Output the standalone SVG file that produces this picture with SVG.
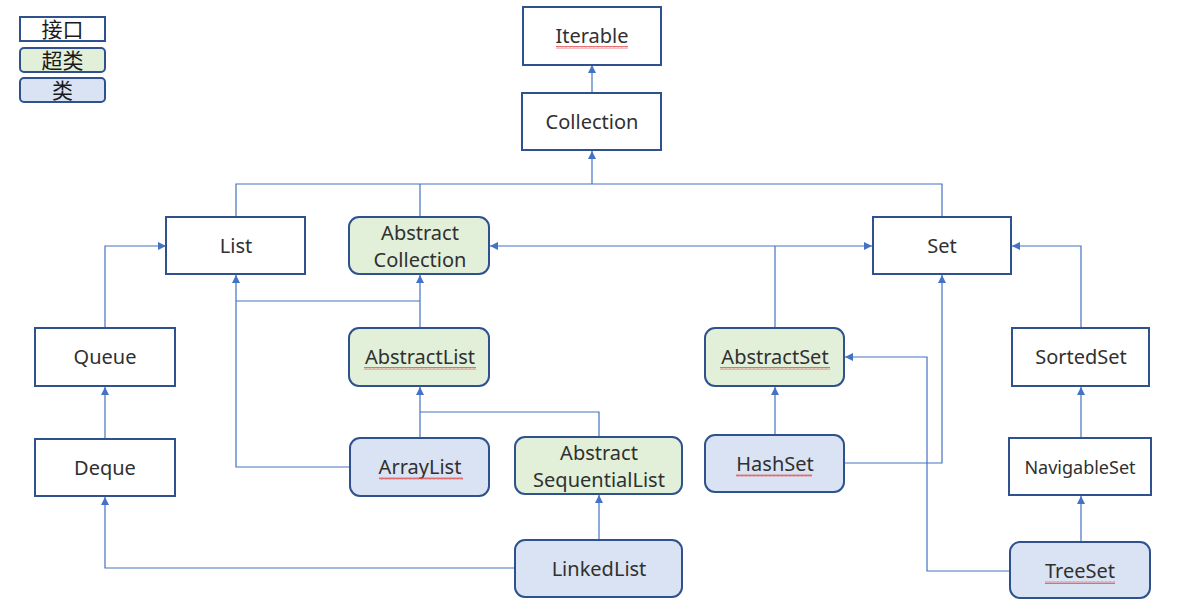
<svg xmlns="http://www.w3.org/2000/svg" width="1183" height="616" viewBox="0 0 1183 616">
<style>
.box{stroke:#2f528f;stroke-width:2}
.iface{fill:#ffffff}
.sup{fill:#e2efd9}
.cls{fill:#dae3f3}
text{font-family:"Noto Sans","Noto Sans CJK SC",sans-serif;font-size:20px;fill:#303030;text-anchor:middle}
.lg{font-family:"Noto Sans CJK SC",sans-serif;font-size:21px;fill:#1a1a1a}
.c{fill:none;stroke:#4472c4;stroke-width:1.2}
.a{marker-end:url(#arr)}
.sq{fill:url(#wave)}
</style>
<defs>
<marker id="arr" viewBox="0 0 10 10" refX="10" refY="5" markerWidth="9" markerHeight="8" markerUnits="userSpaceOnUse" orient="auto">
<path d="M0,0 L10,5 L0,10 z" fill="#4472c4"/>
</marker>
<pattern id="wave" width="4" height="3" patternUnits="userSpaceOnUse">
<path d="M0,2.5 L1,0.5 L2,2.5 L3,0.5 L4,2.5" fill="none" stroke="#e05050" stroke-width="0.8"/>
</pattern>
</defs>

<g id="legend">
<rect class="box iface" x="20" y="17" width="85" height="24"/>
<text class="lg" x="62.5" y="37">接口</text>
<rect class="box sup" x="20" y="48" width="85" height="24" rx="4"/>
<text class="lg" x="62.5" y="68">超类</text>
<rect class="box cls" x="20" y="78" width="85" height="24" rx="4"/>
<text class="lg" x="62.5" y="98">类</text>
</g>

<g id="connectors">
<path class="c a" d="M592,93 V65"/>
<path class="c" d="M236,217 V184 H942 V217"/>
<path class="c" d="M420,217 V184"/>
<path class="c a" d="M592,184 V151"/>
<path class="c a" d="M105,328 V246 H166"/>
<path class="c a" d="M105,439 V387"/>
<path class="c a" d="M515,568 H105 V497"/>
<path class="c a" d="M350,467 H236 V275"/>
<path class="c" d="M236,301 H420"/>
<path class="c a" d="M420,328 V275"/>
<path class="c a" d="M420,438 V387"/>
<path class="c" d="M420,412 H599 V437"/>
<path class="c a" d="M599,540 V495"/>
<path class="c" d="M775,328 V246"/>
<path class="c a" d="M775,246 H490"/>
<path class="c a" d="M775,246 H872"/>
<path class="c a" d="M775,435 V387"/>
<path class="c a" d="M844,463 H942 V275"/>
<path class="c a" d="M1010,571 H927 V357 H845"/>
<path class="c a" d="M1081,328 V246 H1012"/>
<path class="c a" d="M1081,438 V387"/>
<path class="c a" d="M1081,542 V496"/>
</g>

<g id="Iterable">
<rect class="box iface" x="523" y="7" width="138" height="58"/>
<text x="592" y="43">Iterable</text>
<rect class="sq" x="556" y="46" width="72" height="3"/>
</g>
<g id="Collection">
<rect class="box iface" x="522" y="93" width="139" height="57"/>
<text x="592" y="129">Collection</text>
</g>
<g id="List">
<rect class="box iface" x="166" y="217" width="139" height="57"/>
<text x="236" y="253">List</text>
</g>
<g id="AbstractCollection">
<rect class="box sup" x="349" y="217" width="140" height="57" rx="10"/>
<text x="420" y="240">Abstract</text>
<text x="420" y="267">Collection</text>
</g>
<g id="Set">
<rect class="box iface" x="873" y="217" width="138" height="57"/>
<text x="942" y="253">Set</text>
</g>
<g id="Queue">
<rect class="box iface" x="35" y="328" width="140" height="58"/>
<text x="105" y="364">Queue</text>
</g>
<g id="AbstractList">
<rect class="box sup" x="349" y="328" width="140" height="58" rx="10"/>
<text x="420" y="364">AbstractList</text>
<rect class="sq" x="364" y="367" width="112" height="3"/>
</g>
<g id="AbstractSet">
<rect class="box sup" x="705" y="328" width="139" height="58" rx="10"/>
<text x="775" y="364">AbstractSet</text>
<rect class="sq" x="720" y="367" width="110" height="3"/>
</g>
<g id="SortedSet">
<rect class="box iface" x="1012" y="328" width="137" height="58"/>
<text x="1081" y="364">SortedSet</text>
</g>
<g id="Deque">
<rect class="box iface" x="35" y="439" width="140" height="57"/>
<text x="105" y="475">Deque</text>
</g>
<g id="ArrayList">
<rect class="box cls" x="350" y="438" width="139" height="58" rx="10"/>
<text x="420" y="474">ArrayList</text>
<rect class="sq" x="379" y="477" width="84" height="3"/>
</g>
<g id="AbstractSequentialList">
<rect class="box sup" x="515" y="437" width="167" height="57" rx="10"/>
<text x="599" y="460">Abstract</text>
<text x="599" y="487">SequentialList</text>
</g>
<g id="HashSet">
<rect class="box cls" x="705" y="435" width="139" height="57" rx="10"/>
<text x="775" y="471">HashSet</text>
<rect class="sq" x="736" y="474" width="76" height="3"/>
</g>
<g id="NavigableSet">
<rect class="box iface" x="1009" y="438" width="142" height="57"/>
<text x="1080" y="474" style="font-size:18px">NavigableSet</text>
</g>
<g id="LinkedList">
<rect class="box cls" x="515" y="540" width="167" height="57" rx="10"/>
<text x="599" y="576">LinkedList</text>
</g>
<g id="TreeSet">
<rect class="box cls" x="1010" y="542" width="140" height="56" rx="10"/>
<text x="1080" y="578">TreeSet</text>
<rect class="sq" x="1045" y="581" width="70" height="3"/>
</g>
</svg>
